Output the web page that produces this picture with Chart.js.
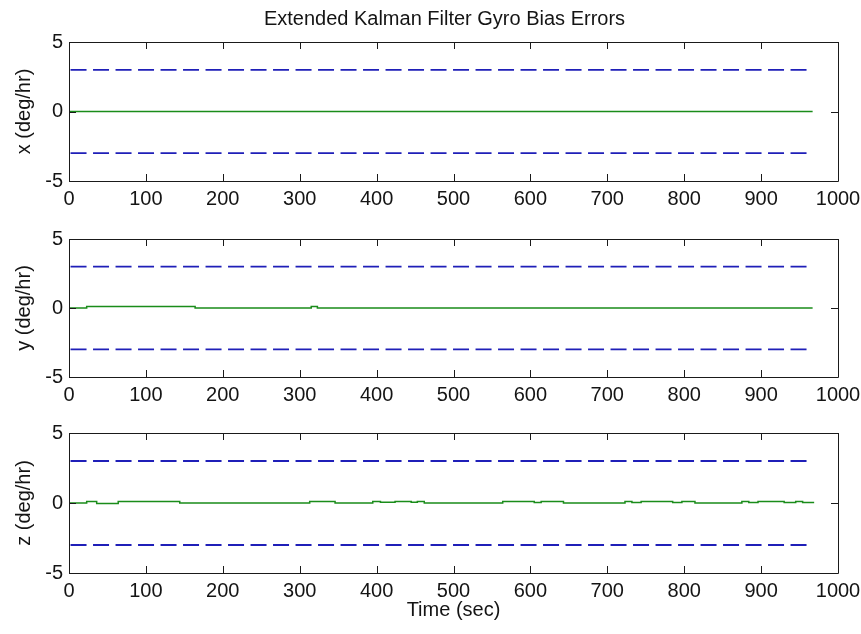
<!DOCTYPE html>
<html>
<head>
<meta charset="utf-8">
<script src="https://cdn.jsdelivr.net/npm/chart.js@4.4.1/dist/chart.umd.min.js"></script>
<style>
  html, body { margin: 0; padding: 0; background: #fff; }
  #wrap { position: relative; width: 861px; height: 634px; overflow: hidden; background: #fff; }
  canvas { position: absolute; left: 0; }
</style>
</head>
<body>
<div id="wrap">
  <canvas id="c1" width="861" height="209" style="top:0px"></canvas>
  <canvas id="c2" width="861" height="196" style="top:209px"></canvas>
  <canvas id="c3" width="861" height="229" style="top:405px"></canvas>
</div>
<script>
// ---- data ----
const titleText = 'Extended Kalman Filter Gyro Bias Errors';
const xAxisTitle = 'Time (sec)';
const yTitles = ['x (deg/hr)', 'y (deg/hr)', 'z (deg/hr)'];
const xTickValues = [0, 100, 200, 300, 400, 500, 600, 700, 800, 900, 1000];
const yTickValues = [-5, 0, 5];

// 3-sigma bound lines (start / end times)
const boundTime = [2, 961];
const boundUpper = [3, 3];
const boundLower = [-3, -3];

// x-axis bias error (step breakpoints)
const xErrTime = [0, 967];
const xErrVal  = [0, 0];

// y-axis bias error
const yErrTime = [0, 23, 164, 315, 323, 967];
const yErrVal  = [0, 0.1, 0, 0.1, 0, 0];

// z-axis bias error
const zErrTime = [0, 23, 36, 64, 144, 313, 346, 395, 405, 424, 445, 453, 462, 564, 605, 614, 643, 723, 732, 744, 785, 797, 814, 875, 884, 896, 930, 945, 954, 969];
const zErrVal  = [0, 0.1, -0.03, 0.1, 0, 0.1, 0, 0.1, 0.05, 0.1, 0.05, 0.1, 0, 0.1, 0.03, 0.1, 0, 0.1, 0.03, 0.1, 0.03, 0.1, 0, 0.1, 0.03, 0.1, 0.03, 0.1, 0.03, 0.03];

// ---- styling ----
const FONT = "'Liberation Sans', Arial, Helvetica, sans-serif";
const FSIZE = 20;
const TXT = '#141414';
const BLUE = '#1f1fb8';
const GREEN = '#1a8c1a';

// step series: each value holds from its time until the next breakpoint
function stepPts(t, v) {
  const out = [];
  for (let i = 0; i < t.length; i++) {
    if (i > 0) out.push({ x: t[i], y: v[i - 1] });
    out.push({ x: t[i], y: v[i] });
  }
  return out;
}
function pts(t, v) { return t.map((x, i) => ({ x: x, y: v[i] })); }

const frame = {
  id: 'frame',
  afterDatasetsDraw(chart) {
    const { ctx, chartArea: a, scales: { x, y } } = chart;
    const L = 7;
    ctx.save();
    ctx.strokeStyle = '#1a1a1a';
    ctx.lineWidth = 1;
    ctx.beginPath();
    ctx.rect(Math.round(a.left) + 0.5, Math.round(a.top) + 0.5,
             Math.round(a.right - a.left), Math.round(a.bottom - a.top));
    xTickValues.forEach(v => {
      const p = Math.round(x.getPixelForValue(v)) + 0.5;
      ctx.moveTo(p, a.bottom); ctx.lineTo(p, a.bottom - L);
      ctx.moveTo(p, a.top); ctx.lineTo(p, a.top + L);
    });
    yTickValues.forEach(v => {
      const p = Math.round(y.getPixelForValue(v)) + 0.5;
      ctx.moveTo(a.left, p); ctx.lineTo(a.left + L, p);
      ctx.moveTo(a.right, p); ctx.lineTo(a.right - L, p);
    });
    ctx.stroke();
    const t = chart.options.plugins.figTitle;
    if (t && t.text) {
      ctx.fillStyle = TXT;
      ctx.font = FSIZE + 'px ' + FONT;
      ctx.textAlign = 'center';
      ctx.textBaseline = 'middle';
      ctx.fillText(t.text, (a.left + a.right) / 2 - 9, 19);
    }
    ctx.restore();
  }
};

function makeChart(id, errT, errV, yTitle, opts) {
  const font = { family: FONT, size: FSIZE };
  return new Chart(document.getElementById(id), {
    type: 'line',
    data: {
      datasets: [
        { data: pts(boundTime, boundUpper), borderColor: BLUE, borderWidth: 1.8, borderDash: [16, 6.5], pointRadius: 0, fill: false },
        { data: pts(boundTime, boundLower), borderColor: BLUE, borderWidth: 1.8, borderDash: [16, 6.5], pointRadius: 0, fill: false },
        { data: stepPts(errT, errV), borderColor: GREEN, borderWidth: 1.5, pointRadius: 0, fill: false }
      ]
    },
    options: {
      responsive: false,
      maintainAspectRatio: false,
      animation: false,
      events: [],
      layout: { padding: { left: 0, right: 23, top: opts.padTop, bottom: 0 } },
      plugins: {
        legend: { display: false },
        tooltip: { enabled: false },
        title: { display: false },
        figTitle: { text: opts.showTitle ? titleText : '' }
      },
      scales: {
        x: {
          type: 'linear', min: 0, max: 1000,
          afterBuildTicks: s => { s.ticks = xTickValues.map(v => ({ value: v })); },
          ticks: { autoSkip: false, maxRotation: 0, padding: 6, color: TXT, font: font, callback: v => String(v) },
          grid: { display: false, drawTicks: false },
          border: { display: false },
          title: opts.xTitle ? { display: true, text: xAxisTitle, color: TXT, font: font, padding: { top: 0, bottom: 12 } } : { display: false },
          afterFit: s => { s.height = opts.xHeight; s.paddingLeft = 0; s.paddingRight = 0; }
        },
        y: {
          type: 'linear', min: -5, max: 5,
          afterBuildTicks: s => { s.ticks = yTickValues.map(v => ({ value: v })); },
          ticks: { padding: 6, color: TXT, font: font, callback: v => String(v) },
          grid: { display: false, drawTicks: false },
          border: { display: false },
          title: { display: true, text: yTitle, color: TXT, font: font, padding: { top: 12, bottom: 0 } },
          afterFit: s => { s.width = 69; s.paddingTop = 0; s.paddingBottom = 0; }
        }
      }
    },
    plugins: [frame]
  });
}

makeChart('c1', xErrTime, xErrVal, yTitles[0], { padTop: 42, showTitle: true, xTitle: false, xHeight: 28 });
makeChart('c2', yErrTime, yErrVal, yTitles[1], { padTop: 30, showTitle: false, xTitle: false, xHeight: 28 });
makeChart('c3', zErrTime, zErrVal, yTitles[2], { padTop: 28, showTitle: false, xTitle: true, xHeight: 61 });
</script>
</body>
</html>
